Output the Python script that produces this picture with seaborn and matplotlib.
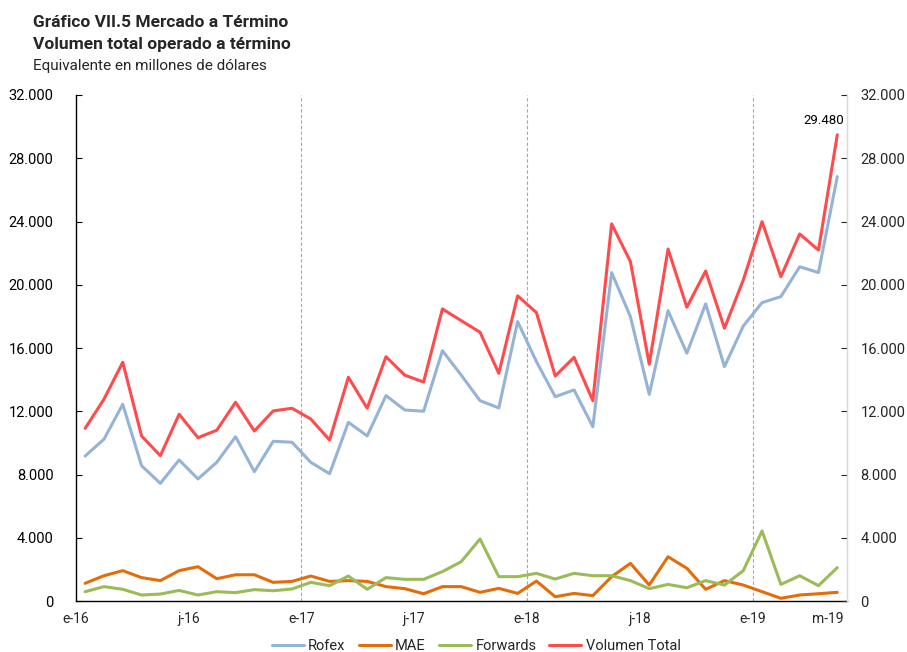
import matplotlib
matplotlib.use("Agg")
import matplotlib.pyplot as plt
from matplotlib.ticker import FuncFormatter, FixedLocator
import seaborn as sns
import pandas as pd
import numpy as np

# ---- data (millones de USD, mensual ene-16 .. may-19) ----
months = ["2016-01", "2016-02", "2016-03", "2016-04", "2016-05", "2016-06", "2016-07", "2016-08",
          "2016-09", "2016-10", "2016-11", "2016-12", "2017-01", "2017-02", "2017-03", "2017-04",
          "2017-05", "2017-06", "2017-07", "2017-08", "2017-09", "2017-10", "2017-11", "2017-12",
          "2018-01", "2018-02", "2018-03", "2018-04", "2018-05", "2018-06", "2018-07", "2018-08",
          "2018-09", "2018-10", "2018-11", "2018-12", "2019-01", "2019-02", "2019-03", "2019-04",
          "2019-05"]
rofex = [9170, 10230, 12440, 8560, 7440, 8920, 7720, 8770, 10390, 8180, 10100, 10040,
         8770, 8050, 11300, 10440, 12990, 12080, 12000, 15830, 14290, 12670, 12210, 17670,
         15140, 12920, 13350, 11020, 20770, 17980, 13070, 18360, 15670, 18790, 14820, 17390,
         18870, 19250, 21140, 20770, 26840]
mae = [1120, 1600, 1920, 1480, 1290, 1920, 2170, 1410, 1660, 1660, 1180, 1240,
       1580, 1240, 1290, 1240, 910, 780, 460, 910, 910, 550, 800, 480,
       1260, 270, 480, 340, 1540, 2380, 1010, 2800, 2070, 740, 1290, 1010,
       590, 170, 380, 460, 550]
forwards = [590, 910, 740, 380, 440, 670, 380, 590, 530, 720, 650, 760,
            1180, 970, 1580, 740, 1480, 1370, 1370, 1860, 2490, 3920, 1540, 1540,
            1750, 1390, 1750, 1600, 1600, 1290, 780, 1050, 840, 1290, 1010, 1920,
            4430, 1050, 1600, 970, 2110]
total = [10920, 12760, 15100, 10440, 9190, 11810, 10330, 10800, 12570, 10750, 12020, 12190,
         11510, 10180, 14150, 12190, 15450, 14280, 13850, 18470, 17730, 17000, 14400, 19300,
         18240, 14230, 15410, 12670, 23850, 21460, 14970, 22260, 18580, 20870, 17250, 20300,
         23990, 20510, 23210, 22190, 29480]
series_names = ["Rofex", "MAE", "Forwards", "Volumen Total"]
tick_labels = ["e-16", "j-16", "e-17", "j-17", "e-18", "j-18", "e-19", "m-19"]
tick_months = ["2016-01", "2016-07", "2017-01", "2017-07", "2018-01", "2018-07", "2019-01", "2019-05"]
year_marks = ["2017-01", "2018-01", "2019-01"]
last_label = "29.480"

colors = {"Rofex": "#95B3D7", "MAE": "#E46C0A", "Forwards": "#9BBB59", "Volumen Total": "#FF4B4B"}

idx = np.arange(len(months))
df = pd.DataFrame({"mes": idx, "Rofex": rofex, "MAE": mae, "Forwards": forwards, "Volumen Total": total})
long = df.melt(id_vars="mes", value_vars=series_names, var_name="serie", value_name="valor")

sns.set_style("white")
plt.rcParams["font.family"] = ["Roboto", "DejaVu Sans"]

fig = plt.figure(figsize=(9.07, 6.52), dpi=100)
ax = fig.add_axes([0.0835, 0.0782, 0.85, 0.7761])

sns.lineplot(data=long, x="mes", y="valor", hue="serie", hue_order=series_names,
             palette=colors, linewidth=2.2, ax=ax, legend=True)

ax.set_xlim(-0.5, len(months) - 0.5)
ax.set_ylim(0, 32000)
ax.set_yticks(np.arange(0, 32001, 4000))
fmt = FuncFormatter(lambda v, p: f"{int(v):,}".replace(",", "."))
ax.yaxis.set_major_formatter(fmt)
tick_pos = [months.index(m) - 0.5 for m in tick_months]
ax.xaxis.set_major_locator(FixedLocator(tick_pos))
ax.set_xticklabels(tick_labels)
ax.set_xlabel("")
ax.set_ylabel("")

for m in year_marks:
    ax.axvline(months.index(m) - 0.5, color="#A6A6A6", linestyle=(0, (3, 2)), linewidth=0.8, zorder=0)

for s in ["left", "bottom"]:
    ax.spines[s].set_color("#000000")
    ax.spines[s].set_linewidth(1.0)
ax.spines["top"].set_visible(False)
ax.spines["right"].set_color("#D9D9D9")
ax.tick_params(axis="y", direction="in", length=4, width=0.8, labelsize=10.5, pad=16, colors="#000000")
ax.tick_params(axis="x", direction="out", length=0, labelsize=10, pad=8)

ax2 = ax.twinx()
ax2.set_ylim(ax.get_ylim())
ax2.set_yticks(np.arange(0, 32001, 4000))
ax2.yaxis.set_major_formatter(fmt)
ax2.tick_params(axis="y", direction="in", length=4, width=0.8, labelsize=10.5, pad=10)
for s in ["left", "top", "bottom"]:
    ax2.spines[s].set_visible(False)
ax2.spines["right"].set_color("#D9D9D9")
ax2.spines["right"].set_linewidth(1.0)

ax.annotate(last_label, xy=(idx[-1], total[-1]), xytext=(-10, 6), textcoords="offset points",
            ha="center", va="bottom", fontsize=9.5, color="#000000")

handles, labels = ax.get_legend_handles_labels()
ax.get_legend().remove()
fig.legend(handles, labels, loc="lower center", bbox_to_anchor=(0.525, -0.022), ncol=4, frameon=False,
           fontsize=10.5, handlelength=2.2, columnspacing=0.9, handletextpad=0.3)

fig.text(0.0364, 0.965, "Gráfico VII.5 Mercado a Término", fontsize=12.5, fontweight="bold", va="center")
fig.text(0.0364, 0.931, "Volumen total operado a término", fontsize=12.5, fontweight="bold", va="center")
fig.text(0.0364, 0.899, "Equivalente en millones de dólares", fontsize=11, va="center")

fig.savefig("out.png", dpi=100)
